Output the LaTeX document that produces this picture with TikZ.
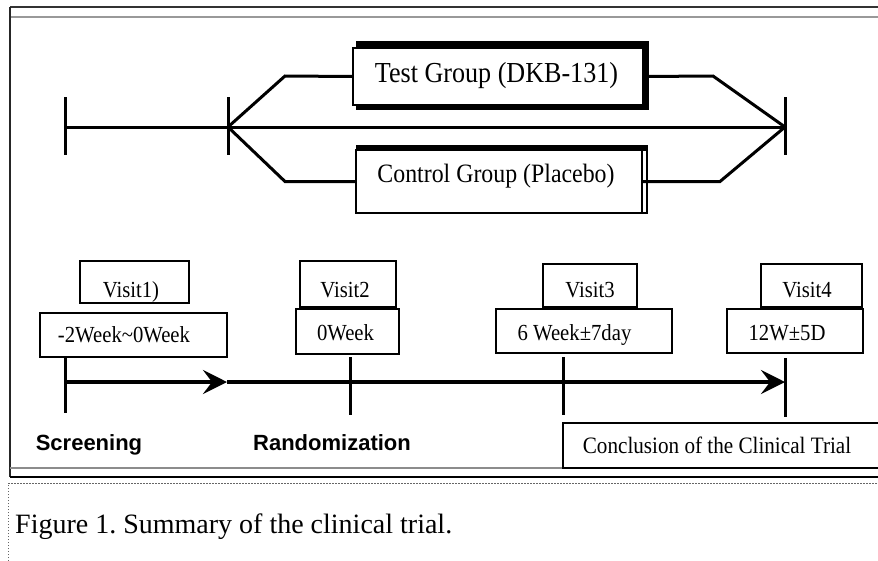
\documentclass[tikz,border=0pt]{standalone}
\usepackage{fontspec}
\setmainfont{Liberation Serif}
\newfontfamily\boxfont[FakeStretch=0.9]{Liberation Serif}
\newfontfamily\stagefont{Liberation Sans}
\usetikzlibrary{arrows.meta}
\frenchspacing
\tikzset{
  frm/.style={draw, line width=1.8pt, fill=white, inner sep=0pt},
  txt/.style={inner sep=0pt, anchor=base},
  boxtxt/.style={txt, font=\boxfont\fontsize{23}{23}\selectfont},
  stagetxt/.style={txt, font=\stagefont\bfseries\fontsize{22}{22}\selectfont},
  tickline/.style={line width=3pt},
  branch/.style={line width=3pt, line join=miter},
  axis/.style={line width=3.5pt},
  tip/.style={-{Stealth[length=24pt, width=24pt, inset=9pt]}},
}
\begin{document}
\begin{tikzpicture}[x=1pt,y=-1pt]
\clip (0,0) rectangle (878,560);
\fill[white] (0,0) rectangle (878,560);

% outer window frame
\draw[line width=1.5pt, black!80] (10,7) -- (895,7);
\draw[line width=2.5pt, black!40] (10,17) -- (895,17);
\draw[line width=2pt, black!85] (10,7) -- (10,477);
\draw[line width=2pt, black!45] (10,468) -- (895,468);
\draw[line width=1.5pt] (10,477) -- (895,477);

% caption panel
\draw[black!60, line width=1pt, dash pattern=on 1.5pt off 1.5pt] (8,600) -- (8,483) -- (895,483);
\node[inner sep=0pt, anchor=base west, font=\fontsize{28}{28}\selectfont] (caption) at (15,533)
  {Figure 1. Summary of the clinical trial.};

% ---- study design: arms ----
\coordinate (s0) at (65,127);
\coordinate (s1) at (228,127);
\coordinate (s2) at (785,127);
\draw[tickline] (65,97) -- (65,155);
\draw[tickline] (228,97) -- (228,155);
\draw[tickline] (785,97) -- (785,155);
\draw[branch] (s0) -- (s2);

% test arm box with its shadow
\fill (356,41) rectangle (649,110);
\node[frm, line width=1.3pt, minimum width=290pt, minimum height=57pt] (test) at (498,76.5) {};
\node[txt, font=\boxfont\fontsize{29}{29}\selectfont] (testlbl) at (496.5,82) {Test Group (DKB-131)};

% control arm box
\fill (356,145) rectangle (647,151);
\node[frm, line width=1.3pt, minimum width=286pt, minimum height=63pt] (ctrl) at (499,181.5) {};
\draw[line width=1.5pt] (642,213) -- (647,213) -- (647,145);
\node[txt, font=\boxfont\fontsize{26.5}{26.5}\selectfont] (ctrllbl) at (496,182) {Control Group (Placebo)};

\draw[branch] (s1) -- (285,76) -- (test.west);
\draw[branch] (test.east) -- (713,76) -- (s2);
\draw[branch] (s1) -- (285,181.5) -- (ctrl.west);
\draw[branch] (ctrl.east) -- (720,181.5) -- (s2);

% ---- visit timeline ----
\coordinate (t1) at (65,382);
\coordinate (tm) at (227,382);
\coordinate (t2) at (350,382);
\coordinate (t3) at (563,382);
\coordinate (t4) at (785,382);
\draw[tickline] (65,358) -- (65,413);
\draw[tickline] (350,357) -- (350,415);
\draw[tickline] (563,357) -- (563,415);
\draw[tickline] (785,358) -- (785,417);
\draw[axis, tip] (t1) -- (tm);
\draw[axis, tip] (tm) -- (t4);

% visit boxes
\node[frm, minimum width=109pt, minimum height=42pt] (v1) at (134.5,282) {};
\node[frm, minimum width=187pt, minimum height=44pt] (w1) at (133.5,335) {};
\node[frm, minimum width=96pt, minimum height=46pt] (v2) at (348,284) {};
\node[frm, minimum width=103pt, minimum height=45pt] (w2) at (347.5,331.5) {};
\node[frm, minimum width=94pt, minimum height=43pt] (v3) at (590,285.5) {};
\node[frm, minimum width=176pt, minimum height=44pt] (w3) at (584,331) {};
\node[frm, minimum width=101pt, minimum height=43pt] (v4) at (811.5,285.5) {};
\node[frm, minimum width=136pt, minimum height=44pt] (w4) at (795,331) {};
\node[frm, minimum width=327pt, minimum height=45pt] (concl) at (726.5,445.5) {};

\node[boxtxt] (v1t) at (131,297.5) {Visit1)};
\node[boxtxt] (w1t) at (124,342) {-2Week\textasciitilde0Week};
\node[boxtxt] (v2t) at (345,297.5) {Visit2};
\node[boxtxt] (w2t) at (345.5,340) {0Week};
\node[boxtxt] (v3t) at (590,297) {Visit3};
\node[boxtxt] (w3t) at (574.5,340) {6 Week±7day};
\node[boxtxt] (v4t) at (807,297) {Visit4};
\node[boxtxt] (w4t) at (787,340) {12W±5D};
\node[boxtxt, font=\boxfont\fontsize{23.5}{23.5}\selectfont] (conclt) at (717,453) {Conclusion of the Clinical Trial};

% stage labels
\node[stagetxt] (screen) at (89,450) {Screening};
\node[stagetxt] (rand) at (332,450) {Randomization};
\end{tikzpicture}
\end{document}
